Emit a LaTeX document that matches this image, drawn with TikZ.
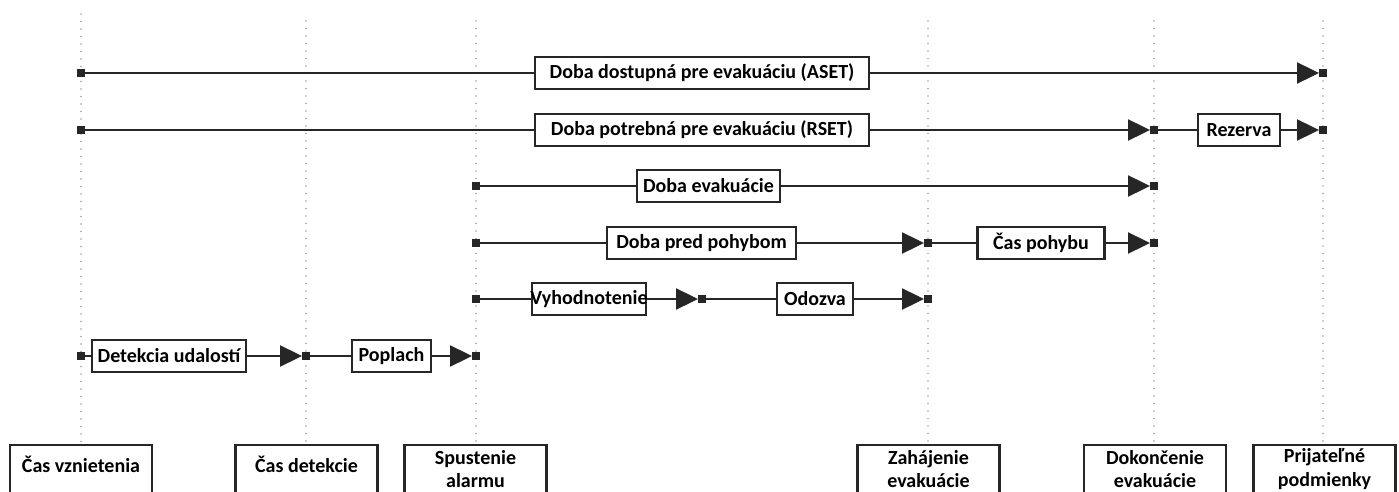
\documentclass[tikz,border=0pt]{standalone}
\usepackage{fontspec}
\setmainfont{Carlito}
\usetikzlibrary{arrows.meta,calc}

\tikzset{
  guide/.style={draw=gray!75, line width=1.7pt, line cap=round, dash pattern=on 0pt off 7.5pt},
  span/.style={draw=black!85, line width=2pt},
  spanarrow/.style={span, -{Triangle[length=22pt,width=21pt]}},
  tick/.style={fill=black!85, draw=none, minimum size=7.5pt, inner sep=0pt},
  phase/.style={draw=black!85, line width=2.2pt, minimum height=32pt, inner sep=0pt,
    font=\fontsize{20}{22}\selectfont\bfseries},
  lbl/.style={inner sep=0pt, font=\fontsize{20}{22}\selectfont\bfseries},
  event/.style={draw=black!85, line width=2.2pt, minimum width=142pt, minimum height=60pt,
    inner sep=0pt, anchor=north},
  eventtext/.style={inner sep=0pt, align=center, font=\fontsize{20}{23.5}\selectfont\bfseries},
}

\begin{document}
\begin{tikzpicture}[x=1pt, y=-1pt]
\useasboundingbox (0,0) rectangle (1399,492);
\clip (0,0) rectangle (1399,492);

% time markers (dotted guides run down to the event boxes)
\coordinate (gIgn) at (81,14);
\coordinate (gDet) at (306,21);
\coordinate (gAla) at (476,21);
\coordinate (gSta) at (928,21);
\coordinate (gEnd) at (1154,21);
\coordinate (gAcc) at (1323,21);

% event boxes along the bottom (cut by the lower edge)
\node[event] (bIgn) at (81,443.5) {};
\node[event] (bDet) at (306.5,443.5) {};
\node[event] (bAla) at (475.5,443.5) {};
\node[event] (bSta) at (928.5,443.5) {};
\node[event] (bEnd) at (1155,443.5) {};
\node[event] (bAcc) at (1324.5,443.5) {};

\node[eventtext, anchor=base] (tIgn) at (81,472) {Čas vznietenia};
\node[eventtext, anchor=base] (tDet) at (306.5,472) {Čas detekcie};
\node[eventtext] (tAla) at (475.5,469) {Spustenie\\alarmu};
\node[eventtext] (tSta) at (928.5,469) {Zahájenie\\evakuácie};
\node[eventtext] (tEnd) at (1155,469) {Dokončenie\\evakuácie};
\node[eventtext] (tAcc) at (1324.5,469) {Prijateľné\\podmienky};

\draw[guide] (gIgn) -- (gIgn |- bIgn.north);
\draw[guide] (gDet) -- (gDet |- bDet.north);
\draw[guide] (gAla) -- (gAla |- bAla.north);
\draw[guide] (gSta) -- (gSta |- bSta.north);
\draw[guide] (gEnd) -- (gEnd |- bEnd.north);
\draw[guide] (gAcc) -- (gAcc |- bAcc.north);

% row 1: ASET
\node[tick] (a0) at (81,73) {};
\node[tick] (a1) at (1323,73) {};
\node[phase, minimum width=334pt] (aset) at (702,73) {Doba dostupná pre evakuáciu (ASET)};
\draw[span] (a0.east) -- (aset.west);
\draw[spanarrow] (aset.east) -- (a1.west);

% row 2: RSET and reserve
\node[tick] (r0) at (81,130) {};
\node[tick] (r1) at (1154,130) {};
\node[tick] (r2) at (1323,130) {};
\node[phase, minimum width=334pt] (rset) at (702,130) {Doba potrebná pre evakuáciu (RSET)};
\node[phase, minimum width=82pt] (rez) at (1239,130) {Rezerva};
\draw[span] (r0.east) -- (rset.west);
\draw[spanarrow] (rset.east) -- (r1.west);
\draw[span] (r1.east) -- (rez.west);
\draw[spanarrow] (rez.east) -- (r2.west);

% row 3: evacuation time
\node[tick] (e0) at (476,186) {};
\node[tick] (e1) at (1154,186) {};
\node[phase, minimum width=143pt] (evak) at (708.5,186) {Doba evakuácie};
\draw[span] (e0.east) -- (evak.west);
\draw[spanarrow] (evak.east) -- (e1.west);

% row 4: pre-movement and movement
\node[tick] (p0) at (476,243) {};
\node[tick] (p1) at (928,243) {};
\node[tick] (p2) at (1154,243) {};
\node[phase, minimum width=189pt] (pred) at (701.5,243) {Doba pred pohybom};
\node[phase, minimum width=127pt] (pohyb) at (1041,243) {Čas pohybu};
\draw[span] (p0.east) -- (pred.west);
\draw[spanarrow] (pred.east) -- (p1.west);
\draw[span] (p1.east) -- (pohyb.west);
\draw[spanarrow] (pohyb.east) -- (p2.west);

% row 5: assessment and response
\node[tick] (v0) at (476,299) {};
\node[tick] (v1) at (702,299) {};
\node[tick] (v2) at (928,299) {};
\node[phase, minimum width=114pt] (vyh) at (589,299) {};
\node[lbl] (vyhText) at (vyh.center) {Vyhodnotenie};
\node[phase, minimum width=76pt] (odo) at (815,299) {Odozva};
\draw[span] (v0.east) -- (vyh.west);
\draw[spanarrow] (vyh.east) -- (v1.west);
\draw[span] (v1.east) -- (odo.west);
\draw[spanarrow] (odo.east) -- (v2.west);

% row 6: detection and alarm
\node[tick] (d0) at (81,356) {};
\node[tick] (d1) at (306,356) {};
\node[tick] (d2) at (476,356) {};
\node[phase, minimum width=154pt] (det) at (169,356) {Detekcia udalostí};
\node[phase, minimum width=79pt] (pop) at (391.5,356) {Poplach};
\draw[span] (d0.east) -- (det.west);
\draw[spanarrow] (det.east) -- (d1.west);
\draw[span] (d1.east) -- (pop.west);
\draw[spanarrow] (pop.east) -- (d2.west);
\end{tikzpicture}
\end{document}
